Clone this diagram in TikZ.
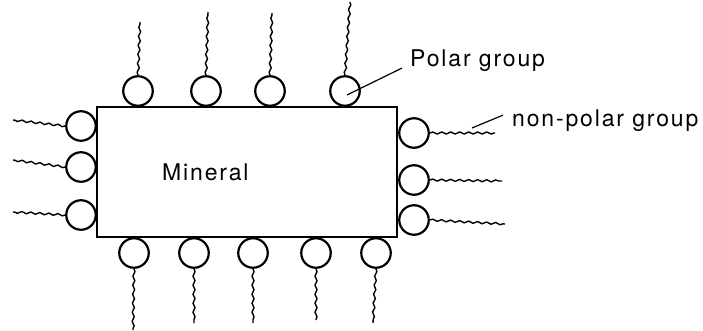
\documentclass[tikz,border=0pt]{standalone}
\usepackage{fontspec}
\setmainfont{TeX Gyre Heros}[LetterSpace=8]
\usetikzlibrary{decorations.pathmorphing}
\tikzset{
  grp/.style={circle, draw, line width=2.2pt, minimum size=29.5pt, inner sep=0pt},
  tail/.style={line width=1.4pt, decorate, decoration={snake, amplitude=1pt, segment length=9pt}},
  leader/.style={line width=1.2pt},
  lbl/.style={font=\fontsize{23}{26}\selectfont, inner sep=0pt, anchor=base west},
  box/.style={draw, line width=2.2pt, minimum width=300pt, minimum height=130pt, inner sep=0pt}
}
\begin{document}
\begin{tikzpicture}[x=1pt,y=-1pt]
\useasboundingbox (0,0) rectangle (703,331);
\node[box] (min) at (247,172) {};
\node[lbl] (mtext) at (162,180) {Mineral};
% top groups
\foreach \i/\x/\ex/\ey in {1/138/140/22, 2/206/208/12, 3/270/272/13, 4/345/350/2}{
  \node[grp] (t\i) at (\x,91) {};
  \coordinate (te\i) at (\ex,\ey);
  \draw[tail] (t\i.north) -- (te\i);
}
% left groups
\foreach \i/\y/\ey in {1/126/120, 2/167/160, 3/215/212}{
  \node[grp] (l\i) at (81,\y) {};
  \coordinate (le\i) at (13,\ey);
  \draw[tail] (l\i.west) -- (le\i);
}
% right groups
\foreach \i/\y/\ex/\ey in {1/133/495/133, 2/180/502/181, 3/220/505/224}{
  \node[grp] (r\i) at (414,\y) {};
  \coordinate (re\i) at (\ex,\ey);
  \draw[tail] (r\i.east) -- (re\i);
}
% bottom groups
\foreach \i/\x/\ex/\ey in {1/134/133/330, 2/194/194/323, 3/253/253/323, 4/316/316/320, 5/376/373/323}{
  \node[grp] (b\i) at (\x,253) {};
  \coordinate (be\i) at (\ex,\ey);
  \draw[tail] (b\i.south) -- (be\i);
}
% labels
\node[lbl] (polar) at (410,67) {Polar group};
\node[lbl] (nonpolar) at (512,127) {non-polar group};
\coordinate (pl) at (347,95);
\coordinate (np) at (472,128);
\draw[leader, shorten >=9pt] (pl) -- ([yshift=-3pt]polar.west);
\draw[leader] (np) -- ([xshift=-9pt,yshift=6pt]nonpolar.west);
\end{tikzpicture}
\end{document}
